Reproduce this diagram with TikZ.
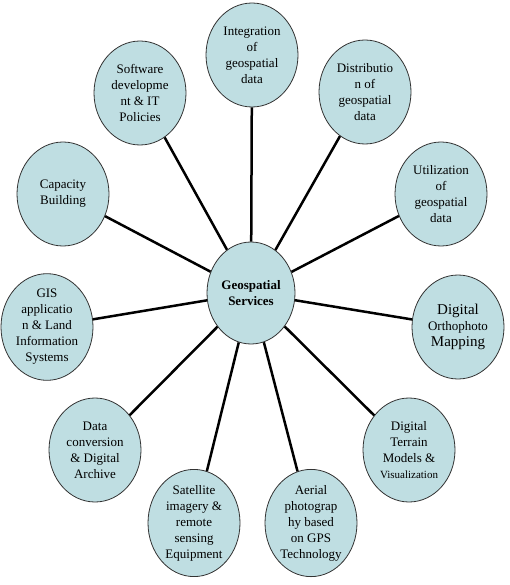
\documentclass[tikz,border=0pt]{standalone}
\usepackage{fontspec}
\setmainfont{Liberation Serif}
\usepackage{xcolor}
\usepackage{tikz}
\usetikzlibrary{shapes.geometric}

\definecolor{bubble}{RGB}{191,222,226}

\begin{document}
\begin{tikzpicture}[
    x=1pt, y=-1pt,
    topic/.style={draw=black!80, line width=0.8pt, ellipse, fill=bubble,
                  minimum width=92pt, minimum height=104pt, inner sep=0pt,
                  align=center, font=\fontsize{13}{16}\selectfont},
    hub/.style={topic, minimum width=88pt, minimum height=102pt,
                font=\fontsize{13}{16}\selectfont\bfseries},
    spoke/.style={line width=2.5pt, black}]
  \useasboundingbox (0,0) rectangle (509,585);

  \node[hub] (geo) at (251,293) {Geospatial\\Services};

  \node[topic] (integ)  at (252,55)  {Integration\\of\\geospatial\\data};
  \node[topic] (distr)  at (365,92)  {Distributio\\n of\\geospatial\\data};
  \node[topic] (util)   at (441,194) {Utilization\\of\\geospatial\\data};
  \node[topic] (ortho)  at (458,327) {{\fontsize{15}{17}\selectfont Digital}\\Orthophoto\\{\fontsize{15}{17}\selectfont Mapping}};
  \node[topic] (dtm)    at (409,450) {Digital\\Terrain\\Models \&\\{\fontsize{11}{14}\selectfont Visualization}};
  \node[topic] (aerial) at (311,523) {Aerial\\photograp\\hy based\\on GPS\\Technology};
  \node[topic] (sat)    at (194,523) {Satellite\\imagery \&\\remote\\sensing\\Equipment};
  \node[topic] (conv)   at (95,450)  {Data\\conversion\\\& Digital\\Archive};
  \node[topic] (gis)    at (47,327)  {GIS\\applicatio\\n \& Land\\Information\\Systems};
  \node[topic] (capac)  at (63,194)  {Capacity\\Building};
  \node[topic] (soft)   at (140,93)  {Software\\developme\\nt \& IT\\Policies};

  \foreach \n in {integ, distr, util, ortho, dtm, aerial, sat, conv, gis, capac, soft}
    \draw[spoke] (geo) -- (\n);
\end{tikzpicture}
\end{document}
